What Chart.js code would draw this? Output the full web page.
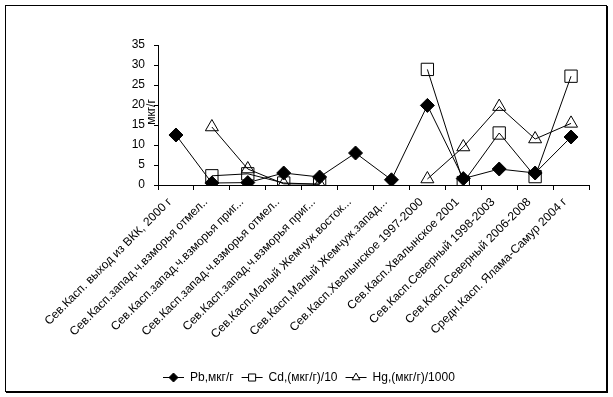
<!DOCTYPE html>
<html>
<head>
<meta charset="utf-8">
<script src="https://cdn.jsdelivr.net/npm/chart.js@4"></script>
<style>
  html, body { margin: 0; padding: 0; background: #fff; }
  #wrap { width: 613px; height: 397px; position: relative; }
</style>
</head>
<body>
<div id="wrap"><canvas id="metalsChart" width="613" height="397"></canvas></div>
<script>
// Categories (sampling sites)
const categories = [
    'Сев.Касп. выход из ВКК, 2000 г',
    'Сев.Касп.запад.ч.взморья отмел..',
    'Сев.Касп.запад.ч.взморья приг...',
    'Сев.Касп.запад.ч.взморья отмел..',
    'Сев.Касп.запад.ч.взморья приг...',
    'Сев.Касп.Малый Жемчуж.восток...',
    'Сев.Касп.Малый Жемчуж.запад...',
    'Сев.Касп.Хвалынское 1997-2000',
    'Сев.Касп.Хвалынское 2001',
    'Сев.Касп.Северный 1998-2003',
    'Сев.Касп.Северный 2006-2008',
    'Средн.Касп. Ялама-Самур 2004 г'
];

// Series values
const pbValues = [12.5, 0.5, 0.6, 3.0, 2.0, 8.0, 1.3, 19.9, 1.6, 4.0, 3.0, 12.0];
const cdValues = [null, 2.3, 2.8, 0.5, 0.2, null, null, 28.9, 0.6, 13.0, 2.1, 27.2];
const hgValues = [null, 14.5, 4.0, 0.3, 0.2, null, null, 1.5, 9.5, 19.6, 11.5, 15.4];

const seriesLabels = ['Pb,мкг/г', 'Cd,(мкг/г)/10', 'Hg,(мкг/г)/1000'];
const yTicks = [0, 5, 10, 15, 20, 25, 30, 35];
const yTitle = 'мкг/г';

const FONT = "'Liberation Sans', Arial, sans-serif";

// Frame, y title and legend drawn by hand (Excel-style)
const excelDecor = {
    id: 'excelDecor',
    afterDraw(chart) {
        const ctx = chart.ctx;
        ctx.save();

        // outer frame
        ctx.strokeStyle = '#000';
        ctx.lineWidth = 1;
        ctx.strokeRect(5.5, 5.5, 601, 386);
        ctx.beginPath();
        ctx.moveTo(607.5, 6); ctx.lineTo(607.5, 393);
        ctx.moveTo(6, 392.5); ctx.lineTo(608, 392.5);
        ctx.stroke();

        // y axis title
        ctx.fillStyle = '#000';
        ctx.font = '12px ' + FONT;
        ctx.textAlign = 'center';
        ctx.textBaseline = 'middle';
        ctx.translate(152, 112);
        ctx.rotate(-Math.PI / 2);
        ctx.fillText(yTitle, 0, 0);
        ctx.setTransform(1, 0, 0, 1, 0, 0);

        // legend
        ctx.font = '12px ' + FONT;
        ctx.textAlign = 'left';
        ctx.textBaseline = 'middle';
        const lineLen = 21, gapText = 6, gapItem = 8;
        const widths = chart.data.datasets.map(ds => lineLen + gapText + ctx.measureText(ds.label).width);
        let x = 163;
        const y = 377;
        chart.data.datasets.forEach((ds, i) => {
            ctx.beginPath();
            ctx.strokeStyle = '#000';
            ctx.lineWidth = 1;
            ctx.moveTo(x, y + 0.5);
            ctx.lineTo(x + lineLen, y + 0.5);
            ctx.stroke();
            ctx.fillStyle = ds.legendFill;
            ctx.strokeStyle = '#000';
            Chart.helpers.drawPoint(ctx, {
                pointStyle: ds.pointStyle,
                radius: ds.legendRadius,
                rotation: 0,
                borderWidth: 1
            }, x + lineLen / 2, y + 0.5);
            ctx.fillStyle = '#000';
            ctx.fillText(ds.label, x + lineLen + gapText, y + 1);
            x += widths[i] + gapItem;
        });
        ctx.restore();
    }
};

document.addEventListener('DOMContentLoaded', function() {
    const ctx = document.getElementById('metalsChart').getContext('2d');

    const metalsChart = new Chart(ctx, {
        type: 'line',
        data: {
            labels: categories,
            datasets: [{
                label: seriesLabels[0],
                data: pbValues,
                borderColor: '#000',
                borderWidth: 1,
                pointStyle: 'rectRot',
                pointRadius: 7,
                pointBackgroundColor: '#000',
                pointBorderColor: '#000',
                legendRadius: 4.5,
                legendFill: '#000',
                tension: 0
            }, {
                label: seriesLabels[1],
                data: cdValues,
                borderColor: '#000',
                borderWidth: 1,
                pointStyle: 'rect',
                pointRadius: 8.7,
                pointBackgroundColor: 'rgba(0,0,0,0)',
                pointBorderColor: '#000',
                pointBorderWidth: 1,
                legendRadius: 5,
                legendFill: '#fff',
                tension: 0
            }, {
                label: seriesLabels[2],
                data: hgValues,
                borderColor: '#000',
                borderWidth: 1,
                pointStyle: 'triangle',
                pointRadius: 7.5,
                pointBackgroundColor: 'rgba(0,0,0,0)',
                pointBorderColor: '#000',
                pointBorderWidth: 1,
                legendRadius: 4.5,
                legendFill: '#fff',
                tension: 0
            }]
        },
        options: {
            responsive: false,
            animation: false,
            spanGaps: false,
            layout: {
                padding: { left: 0, top: 45, right: 24, bottom: 42 }
            },
            plugins: {
                legend: { display: false },
                tooltip: { enabled: false }
            },
            scales: {
                x: {
                    type: 'category',
                    offset: true,
                    grid: {
                        offset: true,
                        drawOnChartArea: false,
                        drawTicks: true,
                        tickLength: 5,
                        color: '#000'
                    },
                    border: { display: true, color: '#000', width: 1 },
                    ticks: {
                        color: '#000',
                        font: { family: FONT, size: 12 },
                        minRotation: 45,
                        maxRotation: 45,
                        autoSkip: false,
                        padding: 5,
                        labelOffset: -6
                    },
                    afterFit(scale) { scale.height = 170; }
                },
                y: {
                    min: 0,
                    max: 35,
                    afterBuildTicks(scale) {
                        scale.ticks = yTicks.map(v => ({ value: v }));
                    },
                    grid: {
                        drawOnChartArea: false,
                        drawTicks: true,
                        tickLength: 4,
                        color: '#000'
                    },
                    border: { display: true, color: '#000', width: 1 },
                    ticks: {
                        color: '#000',
                        font: { family: FONT, size: 12 },
                        padding: 9
                    },
                    afterFit(scale) { scale.width = 158; }
                }
            }
        },
        plugins: [excelDecor]
    });
});
</script>
</body>
</html>
